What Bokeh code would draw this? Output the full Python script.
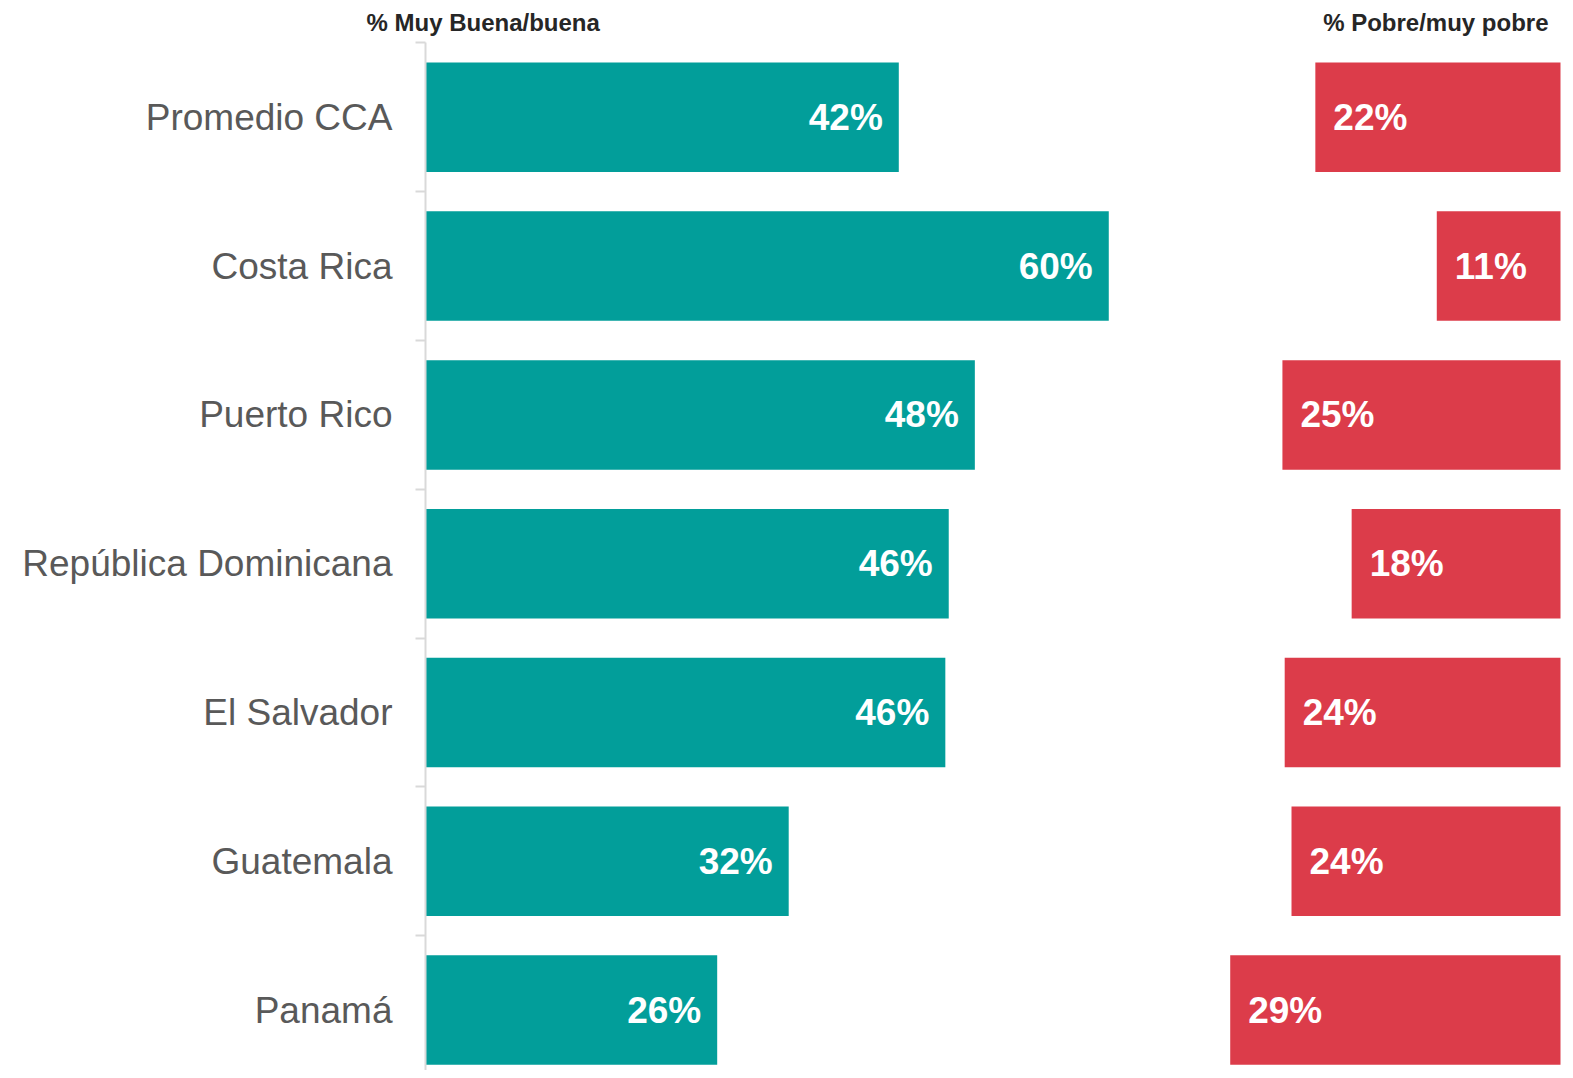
from bokeh.plotting import figure
from bokeh.models import Range1d, FixedTicker, ColumnDataSource
from bokeh.core.properties import value
from bokeh.embed import file_html
from bokeh.resources import INLINE

# ---- data ----
countries = ["Promedio CCA", "Costa Rica", "Puerto Rico", "República Dominicana",
             "El Salvador", "Guatemala", "Panamá"]
good_pct = [41.7, 60.2, 48.4, 46.1, 45.8, 32.0, 25.7]
poor_pct = [21.6, 10.9, 24.5, 18.4, 24.3, 23.7, 29.1]
good_labels = ["42%", "60%", "48%", "46%", "46%", "32%", "26%"]
poor_labels = ["22%", "11%", "25%", "18%", "24%", "24%", "29%"]
header_good = "% Muy Buena/buena"
header_poor = "% Pobre/muy pobre"

TEAL = "#029e9a"
RED = "#dc3c4a"
FONT = "Liberation Sans"

# ---- layout (pixels) ----
W, H = 1565, 1070
X0_PX, X100_PX = 425, 1560      # where 0 % and 100 % sit
TOP_PX, ROW_PX = 42.4, 148.8    # top of first row, row pitch
px_per_unit = (X100_PX - X0_PX) / 100.0

n = len(countries)
centers = [i + 0.5 for i in range(n)]
poor_left = [100 - v for v in poor_pct]

x_range = Range1d(-X0_PX / px_per_unit, 100 + (W - X100_PX) / px_per_unit)
y_range = Range1d((H - TOP_PX) / ROW_PX, -TOP_PX / ROW_PX)

src = ColumnDataSource(dict(y=centers, good=good_pct, poor=poor_pct, poor_left=poor_left,
                            right_edge=[100] * n, zero=[0] * n,
                            gl=good_labels, pl=poor_labels))

p = figure(width=W, height=H, output_backend="svg", toolbar_location=None,
           x_range=x_range, y_range=y_range,
           min_border_left=0, min_border_right=0, min_border_top=0, min_border_bottom=0)
p.outline_line_color = None
p.grid.visible = False
p.xaxis.visible = False
p.background_fill_color = "white"
p.border_fill_color = "white"

p.hbar(y="y", left="zero", right="good", height=0.736, source=src,
       fill_color=TEAL, line_color=None)
p.hbar(y="y", left="poor_left", right="right_edge", height=0.736, source=src,
       fill_color=RED, line_color=None)

p.text(x="good", y="y", text="gl", source=src, x_offset=-16,
       text_align="right", text_baseline="middle", text_color="white",
       text_font=value(FONT), text_font_style="bold", text_font_size="37px")
p.text(x="poor_left", y="y", text="pl", source=src, x_offset=18,
       text_align="left", text_baseline="middle", text_color="white",
       text_font=value(FONT), text_font_style="bold", text_font_size="37px")

# headers
header_y = -(TOP_PX - 21.5) / ROW_PX
p.text(x=[0], y=[header_y], text=[header_good], x_offset=-59,
       text_align="left", text_baseline="middle", text_color="#262626",
       text_font=value(FONT), text_font_style="bold", text_font_size="24px")
p.text(x=[100], y=[header_y], text=[header_poor], x_offset=-12,
       text_align="right", text_baseline="middle", text_color="#262626",
       text_font=value(FONT), text_font_style="bold", text_font_size="24px")

ax = p.yaxis[0]
ax.fixed_location = 0
ax.bounds = (0, n)
ax.ticker = FixedTicker(ticks=centers, minor_ticks=list(range(n + 1)))
ax.major_label_overrides = {c: name for c, name in zip(centers, countries)}
ax.axis_line_color = "#d9d9d9"
ax.axis_line_width = 2
ax.major_tick_line_color = None
ax.major_tick_out = 0
ax.major_tick_in = 0
ax.minor_tick_line_color = "#d9d9d9"
ax.minor_tick_line_width = 2
ax.minor_tick_out = 10
ax.minor_tick_in = 0
ax.major_label_standoff = 23
ax.major_label_text_font = FONT
ax.major_label_text_font_size = "37px"
ax.major_label_text_color = "#595959"

open("out.html", "w").write(file_html(p, INLINE))
